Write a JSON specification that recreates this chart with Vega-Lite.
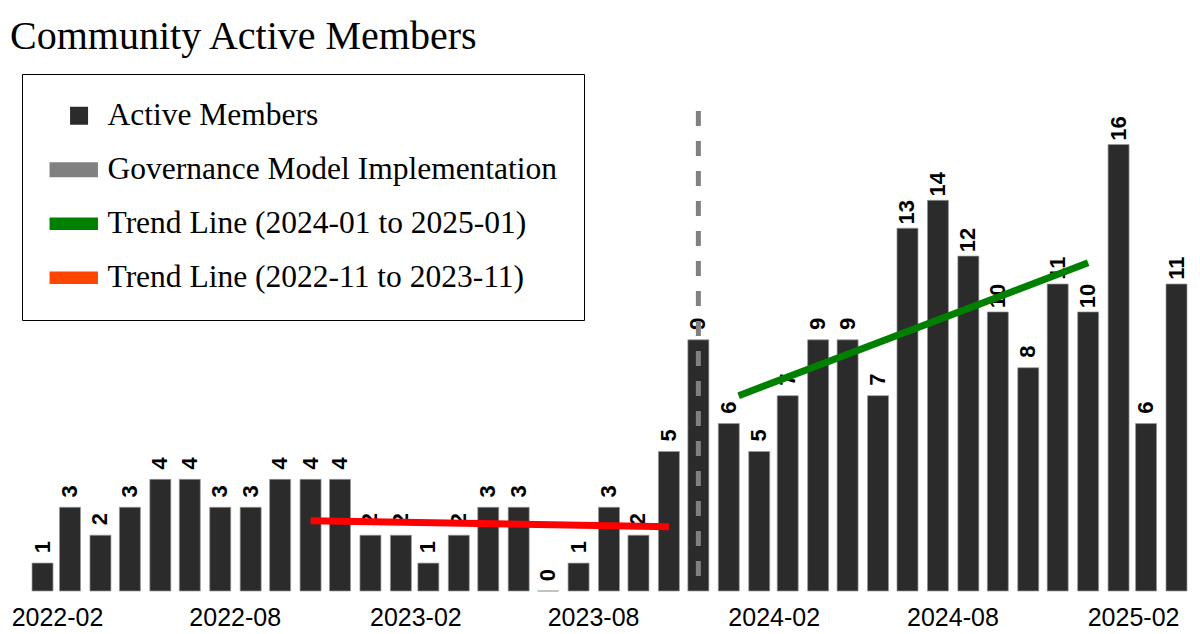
{
  "$schema": "https://vega.github.io/schema/vega-lite/v6.json",
  "autosize": {"type": "none"},
  "padding": {"left": 28, "top": 111, "right": 10, "bottom": 43},
  "width": 1162,
  "height": 480,
  "background": "white",
  "config": {"view": {"stroke": null}},
  "title": {
    "text": "Community Active Members",
    "font": "Liberation Serif",
    "fontSize": 40,
    "fontWeight": "normal",
    "color": "black",
    "anchor": "start",
    "frame": "group",
    "baseline": "alphabetic",
    "offset": 0,
    "dx": -18,
    "dy": 15
  },
  "datasets": {
    "bars": [
      {"month": "2022-02-01", "members": 1},
      {"month": "2022-03-01", "members": 3},
      {"month": "2022-04-01", "members": 2},
      {"month": "2022-05-01", "members": 3},
      {"month": "2022-06-01", "members": 4},
      {"month": "2022-07-01", "members": 4},
      {"month": "2022-08-01", "members": 3},
      {"month": "2022-09-01", "members": 3},
      {"month": "2022-10-01", "members": 4},
      {"month": "2022-11-01", "members": 4},
      {"month": "2022-12-01", "members": 4},
      {"month": "2023-01-01", "members": 2},
      {"month": "2023-02-01", "members": 2},
      {"month": "2023-03-01", "members": 1},
      {"month": "2023-04-01", "members": 2},
      {"month": "2023-05-01", "members": 3},
      {"month": "2023-06-01", "members": 3},
      {"month": "2023-07-01", "members": 0},
      {"month": "2023-08-01", "members": 1},
      {"month": "2023-09-01", "members": 3},
      {"month": "2023-10-01", "members": 2},
      {"month": "2023-11-01", "members": 5},
      {"month": "2023-12-01", "members": 9},
      {"month": "2024-01-01", "members": 6},
      {"month": "2024-02-01", "members": 5},
      {"month": "2024-03-01", "members": 7},
      {"month": "2024-04-01", "members": 9},
      {"month": "2024-05-01", "members": 9},
      {"month": "2024-06-01", "members": 7},
      {"month": "2024-07-01", "members": 13},
      {"month": "2024-08-01", "members": 14},
      {"month": "2024-09-01", "members": 12},
      {"month": "2024-10-01", "members": 10},
      {"month": "2024-11-01", "members": 8},
      {"month": "2024-12-01", "members": 11},
      {"month": "2025-01-01", "members": 10},
      {"month": "2025-02-01", "members": 16},
      {"month": "2025-03-01", "members": 6},
      {"month": "2025-04-01", "members": 11}
    ],
    "trendGreen": [
      {"month": "2024-01-11", "members": 7.0},
      {"month": "2025-01-01", "members": 11.76}
    ],
    "trendRed": [
      {"month": "2022-11-01", "members": 2.52},
      {"month": "2023-11-01", "members": 2.3}
    ],
    "events": [
      {"month": "2023-12-01", "event": "Governance Model Implementation"}
    ],
    "legendItems": [
      {"month": "2022-02-01", "members": 0, "series": "Active Members"},
      {"month": "2022-02-01", "members": 0, "series": "Governance Model Implementation"},
      {"month": "2022-02-01", "members": 0, "series": "Trend Line (2024-01 to 2025-01)"},
      {"month": "2022-02-01", "members": 0, "series": "Trend Line (2022-11 to 2023-11)"}
    ]
  },
  "layer": [
    {
      "data": {"name": "bars"},
      "mark": {"type": "bar", "size": 21, "fill": "#2b2b2b", "stroke": "#9a9a9a", "strokeWidth": 0.7},
      "encoding": {
        "x": {
          "field": "month",
          "type": "temporal",
          "title": null,
          "scale": {
            "type": "utc",
            "domain": [1642395600000, 1744653600000],
            "padding": 0
          },
          "axis": {
            "format": "%Y-%m",
            "values": [1643673600000, 1659312000000, 1675209600000, 1690848000000, 1706745600000, 1722470400000, 1738368000000],
            "domain": false,
            "ticks": false,
            "grid": false,
            "labelFont": "Liberation Sans",
            "labelFontSize": 25,
            "labelColor": "black",
            "labelOffset": 14.5,
            "labelPadding": 14,
            "labelFlush": false,
            "labelOverlap": false,
            "labelBound": false
          }
        },
        "y": {
          "field": "members",
          "type": "quantitative",
          "scale": {"domain": [0, 17.2], "nice": false, "zero": true},
          "axis": null
        }
      }
    },
    {
      "data": {"name": "bars"},
      "mark": {
        "type": "text",
        "angle": 270,
        "align": "center",
        "baseline": "middle",
        "dx": 16,
        "font": "Liberation Sans",
        "fontWeight": "bold",
        "fontSize": 22,
        "color": "black"
      },
      "encoding": {
        "x": {"field": "month", "type": "temporal"},
        "y": {"field": "members", "type": "quantitative"},
        "text": {"field": "members", "type": "quantitative"}
      }
    },
    {
      "data": {"name": "trendRed"},
      "mark": {"type": "line", "color": "#ff0000", "strokeWidth": 7, "strokeCap": "butt"},
      "encoding": {
        "x": {"field": "month", "type": "temporal"},
        "y": {"field": "members", "type": "quantitative"}
      }
    },
    {
      "data": {"name": "trendGreen"},
      "mark": {"type": "line", "color": "#008000", "strokeWidth": 7, "strokeCap": "butt"},
      "encoding": {
        "x": {"field": "month", "type": "temporal"},
        "y": {"field": "members", "type": "quantitative"}
      }
    },
    {
      "data": {"name": "events"},
      "mark": {"type": "rule", "color": "#808080", "strokeWidth": 5, "strokeDash": [15, 15]},
      "encoding": {
        "x": {"field": "month", "type": "temporal"}
      }
    },
    {
      "data": {"name": "legendItems"},
      "mark": {"type": "point", "filled": true, "opacity": 0, "size": 324},
      "encoding": {
        "x": {"field": "month", "type": "temporal"},
        "y": {"field": "members", "type": "quantitative"},
        "color": {
          "field": "series",
          "type": "nominal",
          "scale": {
            "domain": ["Active Members", "Governance Model Implementation", "Trend Line (2024-01 to 2025-01)", "Trend Line (2022-11 to 2023-11)"],
            "range": ["#2b2b2b", "#808080", "#008000", "#ff4500"]
          },
          "legend": {
            "title": null,
            "orient": "none",
            "legendX": -6,
            "legendY": -37,
            "padding": 26,
            "rowPadding": 21,
            "labelFont": "Liberation Serif",
            "labelFontSize": 31.5,
            "labelColor": "black",
            "labelLimit": 700,
            "labelOffset": 18,
            "symbolOffset": 10,
            "symbolSize": 324,
            "symbolOpacity": 1,
            "symbolStrokeWidth": 0,
            "strokeColor": "black",
            "fillColor": "white"
          }
        },
        "shape": {
          "field": "series",
          "type": "nominal",
          "scale": {
            "domain": ["Active Members", "Governance Model Implementation", "Trend Line (2024-01 to 2025-01)", "Trend Line (2022-11 to 2023-11)"],
            "range": ["M-0.41,-1H1.59V1H-0.41Z", "M-2.69,-0.83H2.69V0.83H-2.69Z", "M-2.69,-0.7H2.69V0.7H-2.69Z", "M-2.69,-0.7H2.69V0.7H-2.69Z"]
          },
          "legend": null
        }
      }
    }
  ]
}
